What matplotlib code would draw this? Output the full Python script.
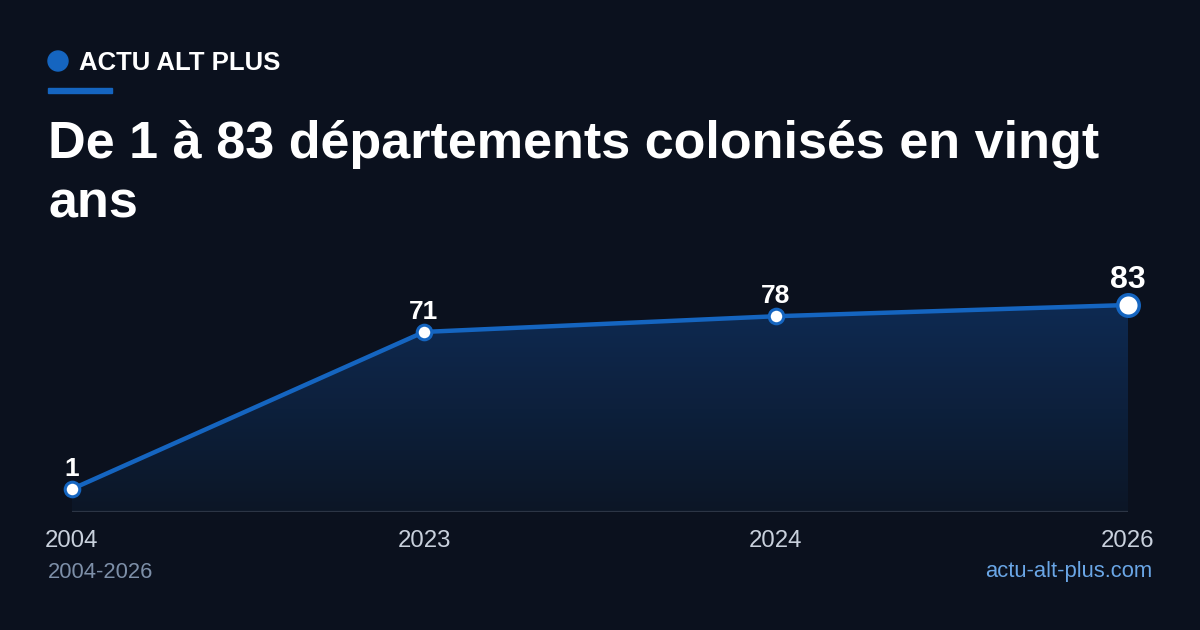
import matplotlib
matplotlib.use("Agg")
import matplotlib.pyplot as plt
import numpy as np
from matplotlib.patches import Polygon, Ellipse

# DATA
years = ["2004", "2023", "2024", "2026"]
values = [1, 71, 78, 83]
title = "De 1 à 83 départements colonisés en vingt\nans"
brand = "ACTU ALT PLUS"
period = "2004-2026"
site = "actu-alt-plus.com"

# COLOURS
bg = "#0b111e"
blue = "#1565c0"
white = "#ffffff"

plt.rcParams['font.family'] = ['Liberation Sans', 'DejaVu Sans']

W, H = 1200, 630
fig = plt.figure(figsize=(W / 100, H / 100), dpi=100, facecolor=bg)

# HEADER
fig.patches.append(Ellipse((58 / W, 1 - 61 / H), 20 / W, 20 / H, transform=fig.transFigure,
                           color=blue, figure=fig))
fig.text(79 / W, 1 - 63 / H, brand, color=white, fontsize=18.5, fontweight='bold',
         va='center', ha='left')
fig.patches.append(plt.Rectangle((48 / W, 1 - 93 / H), 64 / W, 5 / H, transform=fig.transFigure,
                                 color=blue, figure=fig))
fig.text(48 / W, 1 - 218 / H, title, color=white, fontsize=37.5, fontweight='bold',
         va='baseline', ha='left', linespacing=1.3)

# CHART AREA
ax = fig.add_axes([72 / W, 1 - 512 / H, (1128 - 72) / W, (512 - 305) / H])
ax.set_facecolor(bg)
ax.patch.set_alpha(0)
x = np.arange(len(values))
ymin, ymax = -9.25, 83
ax.set_xlim(0, len(values) - 1)
ax.set_ylim(ymin, ymax)

# gradient fill under the line
grad = np.linspace(0, 1, 256).reshape(-1, 1)
cmap = matplotlib.colors.LinearSegmentedColormap.from_list(
    "g", ["#0c1626", "#0e2a52"])
img = ax.imshow(grad, extent=[0, len(values) - 1, ymin, max(values)], origin='lower',
                cmap=cmap, aspect='auto', zorder=1)
verts = [(0, ymin)] + list(zip(x, values)) + [(len(values) - 1, ymin)]
poly = Polygon(verts, closed=True, transform=ax.transData, facecolor='none', edgecolor='none')
ax.add_patch(poly)
img.set_clip_path(poly)

ax.plot(x, values, color=blue, linewidth=3.2, zorder=3, clip_on=False, solid_capstyle='round')
ax.scatter(x[:-1], values[:-1], s=110, facecolor=white, edgecolor=blue, linewidth=2.2,
           zorder=4, clip_on=False)
ax.scatter(x[-1:], values[-1:], s=240, facecolor=white, edgecolor=blue, linewidth=2.5,
           zorder=4, clip_on=False)

for i, v in enumerate(values):
    last = i == len(values) - 1
    ax.annotate(str(v), (x[i], v), xytext=(0, 7 if last else 6), textcoords='offset points',
                ha='center', va='bottom', color=white, fontweight='bold',
                fontsize=23 if last else 19, zorder=5)

ax.axhline(ymin, color="#2c3545", linewidth=1.6, zorder=2)
for s in ax.spines.values():
    s.set_visible(False)
ax.set_yticks([])
ax.set_xticks(x)
ax.set_xticklabels(years)
ax.tick_params(axis='x', length=0, pad=13, labelsize=17.3, labelcolor="#c9d1dd")

# FOOTER
fig.text(48 / W, 1 - 572 / H, period, color="#7d8fa8", fontsize=15.8, va='center', ha='left')
fig.text(1152 / W, 1 - 572 / H, site, color="#6aa6e6", fontsize=15.8, va='center', ha='right')

fig.savefig("out.png", dpi=100, facecolor=bg)
